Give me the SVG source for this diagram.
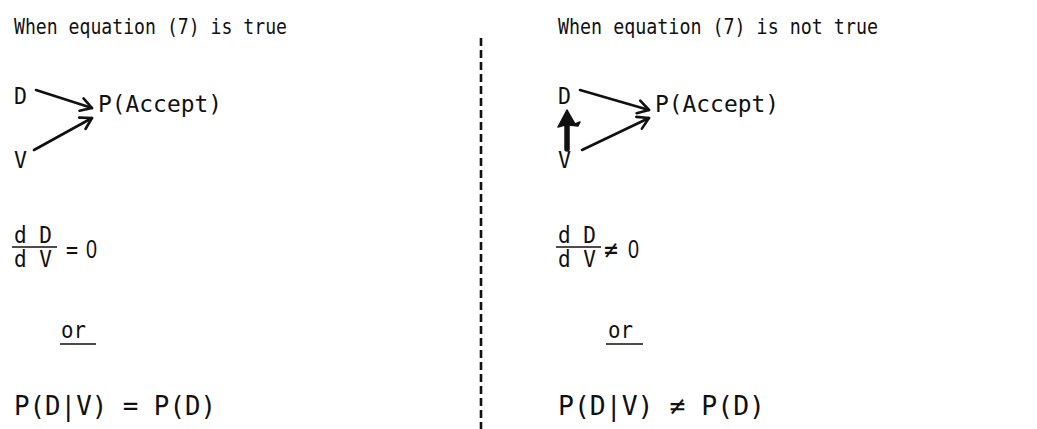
<svg xmlns="http://www.w3.org/2000/svg" width="1037" height="429" viewBox="0 0 1037 429">
<style>
text{font-family:"DejaVu Sans Mono","Liberation Mono",monospace;fill:#111}
.t{font-size:21px}
.n{font-size:23px}
.f{font-size:23px}
.e{font-size:26px}
.z{font-family:"Liberation Sans",Arial,sans-serif;font-size:25px}
.ln{stroke:#111;stroke-width:2.6;fill:none;stroke-linecap:round;stroke-linejoin:round}
.rule{stroke:#111;stroke-width:1.6}
</style>
<defs>
<marker id="open" viewBox="0 0 16 16" refX="14" refY="8" markerWidth="16" markerHeight="16" markerUnits="userSpaceOnUse" orient="auto">
<path d="M3,1.5 L14,8 L3,14.5" fill="none" stroke="#111" stroke-width="2.6" stroke-linecap="round" stroke-linejoin="round"/>
</marker>
</defs>
<rect width="1037" height="429" fill="#fff"/>
<g id="divider"><line x1="481" y1="38" x2="481" y2="429" stroke="#111" stroke-width="2.6" stroke-dasharray="8 4"/></g>

<g id="left-panel">
<text id="title-left" class="t" x="14" y="34" textLength="273" lengthAdjust="spacingAndGlyphs">When equation (7) is true</text>
<g id="node-D-left"><text class="n" x="14" y="104" textLength="13" lengthAdjust="spacingAndGlyphs">D</text></g>
<g id="node-V-left"><text class="n" x="14" y="168" textLength="13" lengthAdjust="spacingAndGlyphs">V</text></g>
<g id="node-P-left"><text class="n" x="98" y="112" textLength="124" lengthAdjust="spacingAndGlyphs">P(Accept)</text></g>
<g id="eq1-left">
<text class="f" x="14" y="243" textLength="38" lengthAdjust="spacingAndGlyphs">d D</text>
<line class="rule" x1="12" y1="247" x2="57" y2="247"/>
<text class="f" x="14" y="267" textLength="38" lengthAdjust="spacingAndGlyphs">d V</text>
<text class="f" x="66" y="258" style="font-size:25px" textLength="12" lengthAdjust="spacingAndGlyphs">=</text>
<text class="z" x="86" y="258" textLength="11" lengthAdjust="spacingAndGlyphs">0</text>
</g>
<g id="or-left"><text class="f" x="61" y="338" textLength="25" lengthAdjust="spacingAndGlyphs">or</text><line class="rule" x1="60" y1="344" x2="96" y2="344"/></g>
<text id="eq2-left" class="e" x="14" y="415" textLength="202" lengthAdjust="spacingAndGlyphs">P(D|V) = P(D)</text>
</g>

<g id="right-panel">
<text id="title-right" class="t" x="558" y="34" textLength="320" lengthAdjust="spacingAndGlyphs">When equation (7) is not true</text>
<g id="node-D-right"><text class="n" x="558" y="104" textLength="13" lengthAdjust="spacingAndGlyphs">D</text></g>
<g id="node-V-right"><text class="n" x="558" y="168" textLength="13" lengthAdjust="spacingAndGlyphs">V</text></g>
<g id="node-P-right"><text class="n" x="655" y="112" textLength="124" lengthAdjust="spacingAndGlyphs">P(Accept)</text></g>
<g id="eq1-right">
<text class="f" x="558" y="243" textLength="38" lengthAdjust="spacingAndGlyphs">d D</text>
<line class="rule" x1="556" y1="247" x2="601" y2="247"/>
<text class="f" x="558" y="267" textLength="38" lengthAdjust="spacingAndGlyphs">d V</text>
<text class="f" x="604" y="258" style="font-size:25px" textLength="14" lengthAdjust="spacingAndGlyphs">≠</text>
<text class="z" x="628" y="258" textLength="11" lengthAdjust="spacingAndGlyphs">0</text>
</g>
<g id="or-right"><text class="f" x="608" y="338" textLength="25" lengthAdjust="spacingAndGlyphs">or</text><line class="rule" x1="606" y1="344" x2="643" y2="344"/></g>
<text id="eq2-right" class="e" x="558" y="415" textLength="207" lengthAdjust="spacingAndGlyphs">P(D|V) ≠ P(D)</text>
</g>

<g id="connectors">
<line class="ln" x1="36" y1="90" x2="92" y2="108" marker-end="url(#open)"/>
<line class="ln" x1="34" y1="150" x2="92" y2="118" marker-end="url(#open)"/>
<line class="ln" x1="580" y1="90" x2="649" y2="110" marker-end="url(#open)"/>
<line class="ln" x1="582" y1="150" x2="649" y2="118" marker-end="url(#open)"/>
<line x1="567" y1="149" x2="567" y2="124" stroke="#111" stroke-width="5.5" stroke-linecap="round"/>
<path d="M567,110 L575,124 L580,122 L578,126 L569,125 L565,125 L558,127 Z" fill="#111" stroke="#111" stroke-width="1.5" stroke-linejoin="round"/>
</g>
</svg>
